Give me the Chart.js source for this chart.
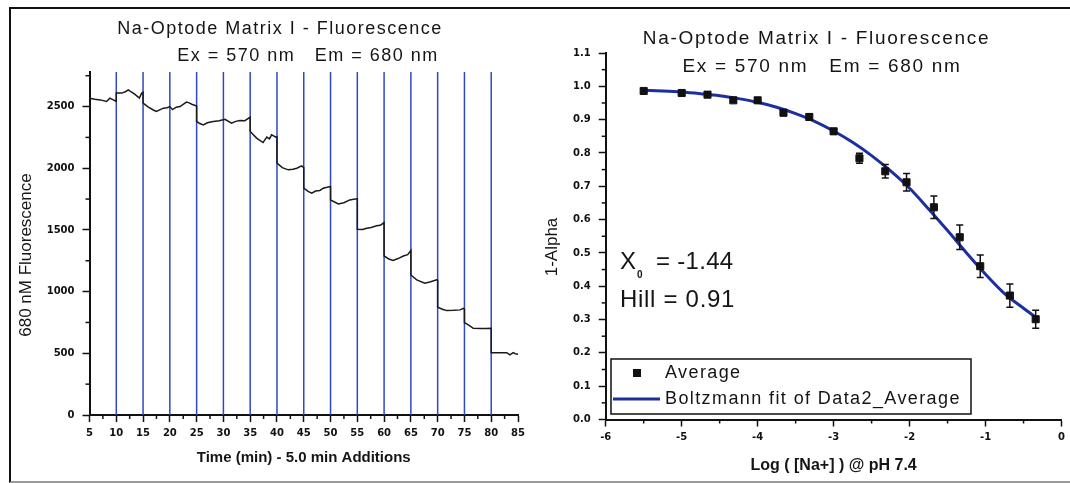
<!DOCTYPE html>
<html>
<head>
<meta charset="utf-8">
<title>Na-Optode Matrix I - Fluorescence</title>
<script src="https://cdn.jsdelivr.net/npm/chart.js@4.4.1/dist/chart.umd.min.js"></script>
<style>
    body { margin: 0; background: #fff; }
    #wrap { position: relative; width: 1070px; height: 483px; overflow: hidden; }
    canvas { position: absolute; top: 0; }
    #left { left: 0; }
    #right { left: 530px; }
    #frame {
        position: absolute; left: 9px; top: 7px; width: 1080px; height: 472px;
        border-left: 2px solid #111; border-top: 2px solid #111; border-bottom: 2px solid #999;
        pointer-events: none;
    }
</style>
</head>
<body>
<div id="wrap">
    <canvas id="left" width="540" height="483"></canvas>
    <canvas id="right" width="540" height="483"></canvas>
    <div id="frame"></div>
</div>
<script>
// Left panel - fluorescence trace (a step at every addition)
const timeMin = [
    5, 6, 7, 8.2, 8.8, 9.45, 10,
    10, 11, 11.7, 12.25, 12.8, 13.5, 14.3, 14.75, 15,
    15, 16, 17, 17.5, 18.2, 18.8, 19.5, 20,
    20.5, 21.2, 21.9, 23.1, 23.6, 24.1, 25,
    25, 25.6, 26.25, 27, 28.1, 29.2, 30.3, 31.5, 32.3, 33.1, 34, 35,
    35, 36.2, 37.4, 38.1, 38.6, 39, 39.8, 40,
    40, 41, 42.1, 43, 43.7, 44.6, 45,
    45, 45.8, 46.5, 47.2, 48, 48.65, 49.9, 50,
    50, 51.45, 52.5, 53.6, 54.3, 55,
    55, 56, 56.75, 57.6, 58.6, 59.3, 60,
    60, 61, 61.7, 62.6, 63.6, 64.4, 65,
    65, 66.1, 67.6, 68.7, 69.8, 70,
    70, 71, 71.7, 73, 74.2, 74.8, 75,
    75, 75.8, 76.65, 78, 79, 80,
    80, 81, 82, 82.9, 83.5, 84.1, 84.5, 85
];
const fluorescence = [
    2568, 2560, 2554, 2541, 2568, 2554, 2541,
    2609, 2609, 2620, 2635, 2618, 2598, 2568, 2609, 2615,
    2527, 2495, 2470, 2460, 2475, 2487, 2490, 2500,
    2475, 2495, 2500, 2536, 2530, 2519, 2505,
    2379, 2362, 2351, 2368, 2379, 2385, 2397, 2365, 2380, 2387, 2385, 2414,
    2298, 2244, 2208, 2252, 2238, 2271, 2252, 2255,
    2041, 2005, 1987, 1992, 2000, 2019, 2005,
    1838, 1812, 1798, 1815, 1820, 1838, 1852, 1850,
    1743, 1711, 1720, 1743, 1748, 1752,
    1506, 1503, 1514, 1520, 1533, 1538, 1560,
    1289, 1262, 1252, 1268, 1289, 1300, 1333,
    1135, 1095, 1068, 1080, 1095, 1092,
    873, 855, 846, 848, 852, 865, 858,
    749, 728, 703, 702, 702, 703,
    505, 505, 505, 505, 487, 505, 497, 493
];
const additionTimes = [10, 15, 20, 25, 30, 35, 40, 45, 50, 55, 60, 65, 70, 75, 80];
const timeTicks = [5, 10, 15, 20, 25, 30, 35, 40, 45, 50, 55, 60, 65, 70, 75, 80, 85];
const fluorTicks = [0, 500, 1000, 1500, 2000, 2500];

// Right panel - 1-Alpha vs log [Na+]
const logNa = [-5.5, -5.0, -4.66, -4.32, -4.0, -3.66, -3.32, -3.0, -2.66, -2.32, -2.04, -1.68, -1.34, -1.07, -0.68, -0.34];
const oneMinusAlpha = [0.986, 0.980, 0.975, 0.958, 0.958, 0.921, 0.908, 0.865, 0.784, 0.745, 0.712, 0.637, 0.547, 0.460, 0.372, 0.301];
const alphaErr = [0.005, 0.005, 0.006, 0.006, 0.007, 0.009, 0.010, 0.008, 0.015, 0.020, 0.026, 0.034, 0.037, 0.034, 0.035, 0.027];
const fitLogNa = [-5.5, -5.25, -5.0, -4.75, -4.5, -4.25, -4.0, -3.75, -3.5, -3.25, -3.0, -2.75, -2.5, -2.25, -2.0, -1.75, -1.5, -1.25, -1.0, -0.75, -0.5, -0.34];
const fitValue = [0.988, 0.986, 0.983, 0.978, 0.972, 0.963, 0.952, 0.937, 0.918, 0.895, 0.866, 0.832, 0.792, 0.746, 0.694, 0.632, 0.567, 0.500, 0.436, 0.378, 0.334, 0.307];
const logTicks = [-6, -5, -4, -3, -2, -1, 0];
const alphaTicks = [0, 0.1, 0.2, 0.3, 0.4, 0.5, 0.6, 0.7, 0.8, 0.9, 1.0, 1.1];

const SANS = '"Liberation Sans", Arial, sans-serif';
const tickFont = { family: 'DejaVu Sans', size: 10, weight: 'bold' };

// majors plus a half-step minor after each one
function withMinors(majors, max) {
    const step = majors[1] - majors[0];
    const out = [];
    majors.forEach(v => {
        out.push(v);
        if (v + step / 2 <= max + 1e-9) out.push(v + step / 2);
    });
    return out;
}

// long ticks for labelled values only, short ones are drawn by minorTicks
const majorTickColor = c => (c.tick && c.tick.label !== '' ? '#111' : 'rgba(0,0,0,0)');

const minorTicks = {
    id: 'minorTicks',
    afterDraw(chart) {
        const ctx = chart.ctx;
        Object.values(chart.scales).forEach(scale => {
            const len = scale.options.minorTickLength;
            if (!len) return;
            ctx.save();
            ctx.strokeStyle = '#111';
            ctx.lineWidth = 1.5;
            scale.ticks.forEach(t => {
                if (t.label !== '') return;
                const p = scale.getPixelForValue(t.value);
                ctx.beginPath();
                if (scale.isHorizontal()) {
                    ctx.moveTo(p, scale.top);
                    ctx.lineTo(p, scale.top + len);
                } else {
                    ctx.moveTo(scale.right, p);
                    ctx.lineTo(scale.right - len, p);
                }
                ctx.stroke();
            });
            ctx.restore();
        });
    }
};

// free text: titles, y titles, fit results
const panelText = {
    id: 'panelText',
    afterDraw(chart, args, opts) {
        const ctx = chart.ctx;
        (opts.items || []).forEach(it => {
            ctx.save();
            ctx.font = it.font;
            ctx.letterSpacing = (it.spacing || 0) + 'px';
            ctx.fillStyle = '#151515';
            ctx.textAlign = it.align || 'center';
            ctx.textBaseline = 'middle';
            ctx.translate(it.x, it.y);
            if (it.rotate) ctx.rotate(it.rotate);
            ctx.fillText(it.text, 0, 0);
            ctx.restore();
        });
    }
};

const additionLines = {
    id: 'additionLines',
    beforeDatasetsDraw(chart) {
        const { ctx, chartArea, scales: { x } } = chart;
        ctx.save();
        ctx.strokeStyle = '#2f49c4';
        ctx.lineWidth = 1.5;
        additionTimes.forEach(t => {
            const px = x.getPixelForValue(t);
            ctx.beginPath();
            ctx.moveTo(px, chartArea.top);
            ctx.lineTo(px, chartArea.bottom);
            ctx.stroke();
        });
        ctx.restore();
    }
};

const errorBars = {
    id: 'errorBars',
    afterDatasetsDraw(chart) {
        const ctx = chart.ctx;
        const yScale = chart.scales.y;
        const meta = chart.getDatasetMeta(0);
        ctx.save();
        ctx.strokeStyle = '#111';
        ctx.lineWidth = 1.5;
        meta.data.forEach((pt, i) => {
            const lo = yScale.getPixelForValue(oneMinusAlpha[i] - alphaErr[i]);
            const hi = yScale.getPixelForValue(oneMinusAlpha[i] + alphaErr[i]);
            ctx.beginPath();
            ctx.moveTo(pt.x, lo); ctx.lineTo(pt.x, hi);
            ctx.moveTo(pt.x - 3.5, lo); ctx.lineTo(pt.x + 3.5, lo);
            ctx.moveTo(pt.x - 3.5, hi); ctx.lineTo(pt.x + 3.5, hi);
            ctx.stroke();
        });
        ctx.restore();
    }
};

// boxed legend in the lower left of the plot
const boxLegend = {
    id: 'boxLegend',
    afterDraw(chart, args, opts) {
        const ctx = chart.ctx;
        const ds = chart.data.datasets;
        ctx.save();
        ctx.fillStyle = '#fff';
        ctx.fillRect(opts.x, opts.y, opts.w, opts.h);
        ctx.strokeStyle = '#111';
        ctx.lineWidth = 1.5;
        ctx.strokeRect(opts.x, opts.y, opts.w, opts.h);

        const row1 = opts.y + 14, row2 = opts.y + 40;
        ctx.fillStyle = '#111';
        ctx.fillRect(opts.x + 22, row1 - 4, 8, 8);
        ctx.strokeStyle = ds[1].borderColor;
        ctx.lineWidth = 3;
        ctx.beginPath();
        ctx.moveTo(opts.x + 2, row2);
        ctx.lineTo(opts.x + 49, row2);
        ctx.stroke();

        ctx.font = '18px ' + SANS;
        ctx.letterSpacing = '1.4px';
        ctx.textBaseline = 'middle';
        ctx.textAlign = 'left';
        ctx.fillStyle = '#151515';
        ctx.fillText(ds[0].label, opts.x + 54, row1);
        ctx.fillText(ds[1].label, opts.x + 54, row2);
        ctx.restore();
    }
};

// Chart - fluorescence vs time
new Chart(document.getElementById('left'), {
    type: 'line',
    data: {
        datasets: [{
            label: '680 nM Fluorescence',
            data: timeMin.map((t, i) => ({ x: t, y: fluorescence[i] })),
            borderColor: '#1a1a1a',
            borderWidth: 1.5,
            pointRadius: 0,
            tension: 0
        }]
    },
    options: {
        responsive: false,
        animation: false,
        layout: { padding: { left: 0, right: 22, top: 72, bottom: 8 } },
        plugins: {
            legend: { display: false },
            tooltip: { enabled: false },
            panelText: {
                items: [
                    { text: 'Na-Optode Matrix I - Fluorescence', x: 280, y: 29, font: '18px ' + SANS, spacing: 1.5 },
                    { text: 'Ex = 570 nm   Em = 680 nm', x: 308, y: 56, font: '18px ' + SANS, spacing: 1.5 },
                    { text: '680 nM Fluorescence', x: 26, y: 255, font: '17px ' + SANS, rotate: -Math.PI / 2 }
                ]
            }
        },
        scales: {
            x: {
                type: 'linear',
                min: 5,
                max: 85,
                afterBuildTicks: s => { s.ticks = withMinors(timeTicks, 85).map(v => ({ value: v })); },
                afterFit: s => { s.height = 60; },
                minorTickLength: 4,
                ticks: {
                    autoSkip: false, maxRotation: 0, padding: 5, color: '#111', font: tickFont,
                    callback: v => (timeTicks.includes(v) ? String(v) : '')
                },
                grid: { drawOnChartArea: false, tickLength: 7, tickWidth: 1.5, tickColor: majorTickColor },
                border: { color: '#111', width: 2 },
                title: {
                    display: true, text: 'Time (min) - 5.0 min Additions', color: '#151515',
                    font: { family: SANS, size: 15, weight: 'bold' }, padding: { top: 0, bottom: 8 }
                }
            },
            y: {
                type: 'linear',
                min: 0,
                max: 2780,
                afterBuildTicks: s => { s.ticks = withMinors(fluorTicks, 2780).map(v => ({ value: v })); },
                afterFit: s => { s.width = 89.5; },
                minorTickLength: 4,
                ticks: {
                    autoSkip: false, padding: 8, color: '#111', font: tickFont,
                    callback: v => (fluorTicks.includes(v) ? String(v) : '')
                },
                grid: { drawOnChartArea: false, tickLength: 7, tickWidth: 1.5, tickColor: majorTickColor },
                border: { color: '#111', width: 2 }
            }
        }
    },
    plugins: [additionLines, minorTicks, panelText]
});

// Chart - 1-Alpha vs log [Na+] with Boltzmann fit
new Chart(document.getElementById('right'), {
    type: 'line',
    data: {
        datasets: [{
            label: 'Average',
            data: logNa.map((x, i) => ({ x: x, y: oneMinusAlpha[i] })),
            showLine: false,
            pointStyle: 'rect',
            pointRadius: 5,
            pointBackgroundColor: '#111',
            pointBorderColor: '#111',
            pointBorderWidth: 1
        }, {
            label: 'Boltzmann fit of Data2_Average',
            data: fitLogNa.map((x, i) => ({ x: x, y: fitValue[i] })),
            borderColor: '#1d2f9c',
            borderWidth: 3,
            pointRadius: 0,
            cubicInterpolationMode: 'monotone'
        }]
    },
    options: {
        responsive: false,
        animation: false,
        layout: { padding: { left: 0, right: 6, top: 53, bottom: 8 } },
        plugins: {
            legend: { display: false },
            tooltip: { enabled: false },
            boxLegend: { x: 81, y: 359, w: 360, h: 55 },
            panelText: {
                items: [
                    { text: 'Na-Optode Matrix I - Fluorescence', x: 286.5, y: 39, font: '19px ' + SANS, spacing: 1.7 },
                    { text: 'Ex = 570 nm   Em = 680 nm', x: 292, y: 67, font: '19px ' + SANS, spacing: 1.7 },
                    { text: '1-Alpha', x: 22.4, y: 247, font: '17px ' + SANS, rotate: -Math.PI / 2 },
                    { text: 'X', x: 90, y: 262, font: '24px ' + SANS, align: 'left' },
                    { text: '0', x: 107, y: 275, font: 'bold 10px ' + SANS, align: 'left' },
                    { text: '= -1.44', x: 126, y: 262, font: '24px ' + SANS, align: 'left', spacing: 0.3 },
                    { text: 'Hill = 0.91', x: 90, y: 300, font: '24px ' + SANS, align: 'left', spacing: 0.7 }
                ]
            }
        },
        scales: {
            x: {
                type: 'linear',
                min: -6,
                max: 0,
                afterBuildTicks: s => { s.ticks = withMinors(logTicks, 0).map(v => ({ value: v })); },
                afterFit: s => { s.height = 55.5; },
                minorTickLength: 4,
                ticks: {
                    autoSkip: false, maxRotation: 0, padding: 5, color: '#111', font: tickFont,
                    callback: v => (logTicks.includes(v) ? String(v) : '')
                },
                grid: { drawOnChartArea: false, tickLength: 7, tickWidth: 1.5, tickColor: majorTickColor },
                border: { color: '#111', width: 2 },
                title: {
                    display: true, text: 'Log ( [Na+] ) @ pH 7.4', color: '#151515',
                    font: { family: SANS, size: 16, weight: 'bold' }, padding: { top: 0, bottom: 0 }
                }
            },
            y: {
                type: 'linear',
                min: 0,
                max: 1.1,
                afterBuildTicks: s => { s.ticks = withMinors(alphaTicks, 1.1).map(v => ({ value: v })); },
                afterFit: s => { s.width = 75.7; },
                minorTickLength: 4,
                ticks: {
                    autoSkip: false, padding: 8, color: '#111', font: tickFont,
                    callback: v => (alphaTicks.includes(v) ? v.toFixed(1) : '')
                },
                grid: { drawOnChartArea: false, tickLength: 7, tickWidth: 1.5, tickColor: majorTickColor },
                border: { color: '#111', width: 2 }
            }
        }
    },
    plugins: [errorBars, minorTicks, panelText, boxLegend]
});
</script>
</body>
</html>
